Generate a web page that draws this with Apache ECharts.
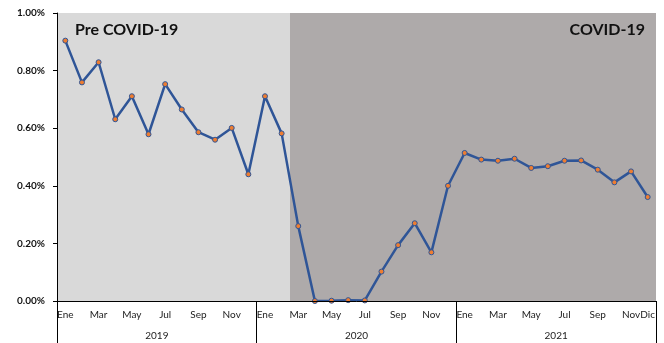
<!DOCTYPE html>
<html>
<head>
<meta charset="utf-8">
<script src="https://cdn.jsdelivr.net/npm/echarts@6/dist/echarts.min.js"></script>
<style>
  html, body { margin: 0; padding: 0; background: #fff; }
  #chart { width: 664px; height: 343px; }
</style>
</head>
<body>
<div id="chart"></div>
<script>
// meses 2019-2021 (etiquetas del eje)
const meses = ['Ene','Feb','Mar','Abr','May','Jun','Jul','Ago','Sep','Oct','Nov','Dic'];
const categorias = [].concat(meses, meses, meses);
const anios = ['2019', '2020', '2021'];

// valores en %
const valores = [
  0.904, 0.759, 0.829, 0.631, 0.711, 0.579, 0.753, 0.665, 0.586, 0.560, 0.601, 0.440,
  0.711, 0.582, 0.260, 0.000, 0.001, 0.003, 0.002, 0.102, 0.194, 0.270, 0.169, 0.400,
  0.514, 0.491, 0.487, 0.494, 0.462, 0.468, 0.487, 0.488, 0.456, 0.412, 0.450, 0.361
];

// el periodo COVID empieza en mar 2020 (índice 14)
const inicioCovid = 14;
const yMax = 1.0;

const fuente = 'Lato, "Liberation Sans", sans-serif';

let chart = echarts.init(document.getElementById('chart'));
let option = {
  animation: false,
  grid: { left: 57, right: 8, top: 13, bottom: 42 },
  textStyle: { fontFamily: fuente },
  xAxis: [
    {
      type: 'category',
      data: categorias,
      boundaryGap: true,
      axisLine: { show: true, lineStyle: { color: '#000', width: 1 } },
      axisTick: { show: false },
      axisLabel: {
        interval: (i) => i % 2 === 0 || i === categorias.length - 1,
        margin: 9,
        fontSize: 10,
        color: '#222'
      },
      z: 5
    },
    {
      type: 'category',
      data: anios,
      position: 'bottom',
      boundaryGap: true,
      axisLine: { show: false },
      axisTick: { show: true, interval: 0, length: 42, lineStyle: { color: '#000', width: 1 } },
      axisLabel: { margin: 30, fontSize: 10, color: '#222' }
    },
    {
      // eje auxiliar para sombrear por bandas completas de meses
      type: 'value', min: 0, max: categorias.length, show: false
    }
  ],
  yAxis: {
    type: 'value',
    min: 0,
    max: yMax,
    interval: 0.2,
    axisLine: { show: true, lineStyle: { color: '#000', width: 1 } },
    axisTick: { show: true, length: 4, lineStyle: { color: '#000' } },
    splitLine: { show: false },
    axisLabel: {
      margin: 12,
      fontSize: 10,
      fontWeight: 'bold',
      color: '#111',
      formatter: (v) => v.toFixed(2) + '%'
    },
    z: 5
  },
  series: [
    {
      type: 'line',
      xAxisIndex: 2,
      data: [[0, 0], [categorias.length, 0]],
      symbol: 'none',
      lineStyle: { opacity: 0 },
      silent: true,
      z: 1,
      markArea: {
        silent: true,
        data: [
          [{ xAxis: 0, yAxis: 0, itemStyle: { color: '#d9d9d9' } }, { xAxis: inicioCovid, yAxis: yMax }],
          [{ xAxis: inicioCovid, yAxis: 0, itemStyle: { color: '#aeaaaa' } }, { xAxis: categorias.length, yAxis: yMax }]
        ]
      }
    },
    {
      type: 'line',
      data: valores,
      symbol: 'circle',
      symbolSize: 5,
      lineStyle: { color: '#2f5597', width: 2.5 },
      itemStyle: { color: '#ed7d31', borderColor: '#2f5597', borderWidth: 1 },
      z: 3
    }
  ],
  graphic: [
    {
      type: 'text', left: 75, top: 22, z: 100,
      style: { text: 'Pre COVID-19', fill: '#111', font: 'bold 16px ' + fuente }
    },
    {
      type: 'text', right: 19, top: 22, z: 100,
      style: { text: 'COVID-19', fill: '#111', font: 'bold 16px ' + fuente }
    }
  ]
};
chart.setOption(option);
</script>
</body>
</html>
